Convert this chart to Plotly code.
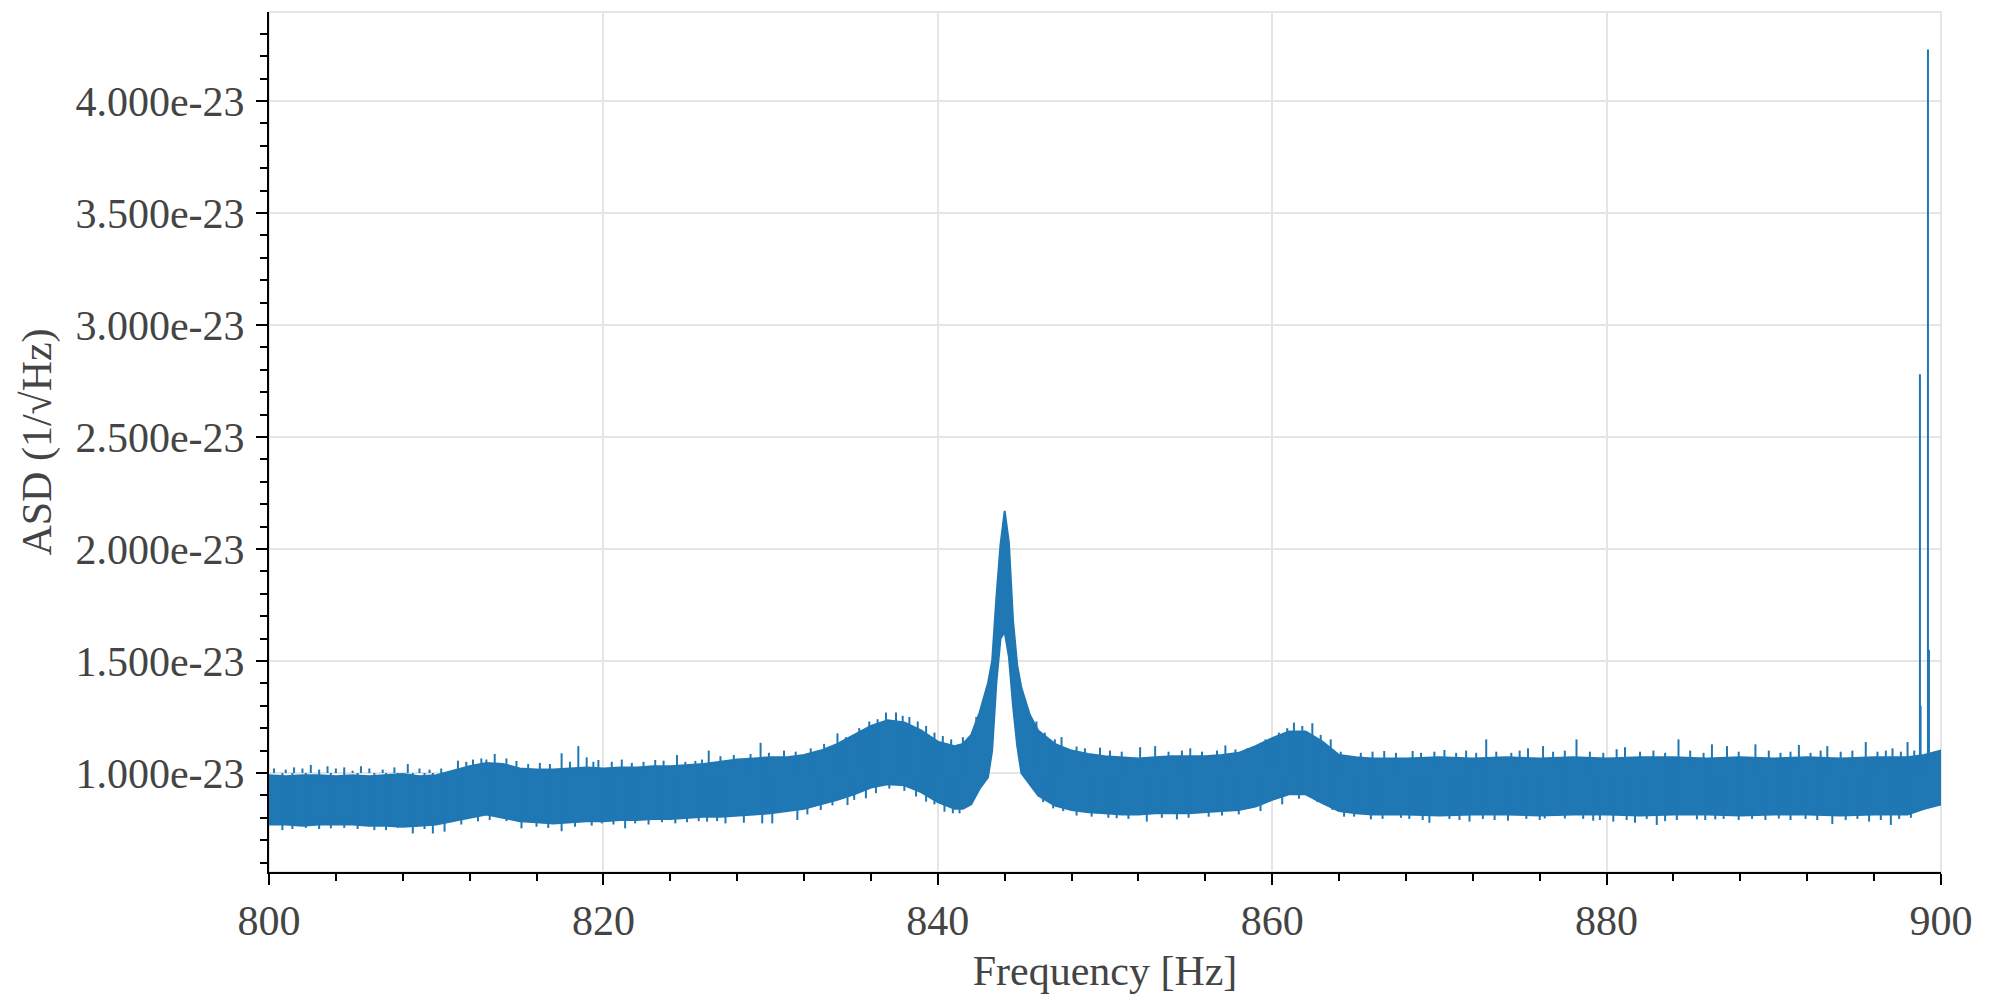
import numpy as np
import plotly.graph_objects as go

SCALE = 1e-23  # ASD values below are in units of 1e-23 1/sqrt(Hz)

# envelope of the noise band
freq = [800, 801, 802, 803, 804, 805, 806, 807, 808, 809,
        810, 811, 812, 813, 814, 815, 816, 817, 818, 819,
        820, 821, 822, 823, 824, 825, 826, 827, 828, 829,
        830, 831, 832, 833, 834, 835, 836, 837, 838, 839,
        840, 841, 841.5, 842, 842.5, 843, 843.25, 843.5, 843.75, 844,
        844.25, 844.5, 844.75, 845, 845.5, 846, 847, 848, 849, 850,
        851, 852, 853, 854, 855, 856, 857, 858, 859, 860,
        861, 862, 863, 864, 865, 866, 867, 868, 870, 872,
        874, 876, 878, 880, 882, 884, 886, 888, 890, 892,
        894, 896, 898, 899, 900]
asd_upper = [0.99, 0.985, 0.99, 0.99, 0.985, 0.99, 0.985, 0.99, 0.995, 0.985,
             0.99, 1.01, 1.03, 1.045, 1.04, 1.02, 1.015, 1.015, 1.02, 1.025,
             1.02, 1.025, 1.025, 1.03, 1.03, 1.035, 1.04, 1.05, 1.06, 1.065,
             1.07, 1.07, 1.08, 1.10, 1.13, 1.17, 1.21, 1.235, 1.225, 1.19,
             1.14, 1.12, 1.13, 1.17, 1.27, 1.40, 1.50, 1.78, 2.02, 2.17,
             2.03, 1.68, 1.48, 1.38, 1.26, 1.19, 1.13, 1.10, 1.085, 1.075,
             1.07, 1.065, 1.07, 1.075, 1.075, 1.075, 1.08, 1.09, 1.12, 1.155,
             1.185, 1.185, 1.14, 1.08, 1.07, 1.065, 1.065, 1.065, 1.07, 1.065,
             1.07, 1.065, 1.07, 1.065, 1.07, 1.07, 1.065, 1.07, 1.065, 1.07,
             1.065, 1.07, 1.07, 1.08, 1.10]
asd_lower = [0.77, 0.77, 0.765, 0.77, 0.77, 0.77, 0.765, 0.765, 0.76, 0.765,
             0.77, 0.785, 0.80, 0.815, 0.80, 0.785, 0.78, 0.775, 0.78, 0.785,
             0.785, 0.79, 0.79, 0.795, 0.795, 0.80, 0.805, 0.805, 0.81, 0.815,
             0.82, 0.83, 0.84, 0.86, 0.88, 0.905, 0.935, 0.95, 0.945, 0.915,
             0.87, 0.84, 0.84, 0.86, 0.93, 0.98, 1.10, 1.40, 1.60, 1.63,
             1.52, 1.30, 1.12, 1.00, 0.95, 0.90, 0.855, 0.835, 0.825, 0.82,
             0.815, 0.815, 0.82, 0.82, 0.82, 0.825, 0.83, 0.835, 0.85, 0.88,
             0.905, 0.905, 0.865, 0.83, 0.82, 0.815, 0.815, 0.815, 0.81, 0.815,
             0.815, 0.81, 0.815, 0.815, 0.81, 0.815, 0.815, 0.81, 0.815, 0.815,
             0.81, 0.815, 0.815, 0.84, 0.86]

# noise hairs sticking out above the band
hair_up_freq = [800.3, 801.0, 801.5, 802.0, 802.5, 803.0, 803.5, 804.0, 804.5, 805.0,
                805.5, 806.0, 806.8, 807.5, 808.3, 809.0, 809.6, 810.3, 811.3, 811.8,
                812.2, 812.7, 813.0, 813.5, 814.2, 814.8, 815.5, 816.2, 816.8, 817.5,
                818.0, 818.5, 819.0, 819.4, 819.7, 820.5, 821.1, 821.7, 822.4, 823.1,
                823.6, 824.4, 824.9, 825.5, 825.9, 826.3, 827.0, 827.8, 828.8, 829.4,
                829.9, 830.8, 831.5, 832.4, 833.2, 834.0, 834.5, 835.3, 835.9, 836.4,
                836.9, 837.5, 837.9, 838.3, 838.8, 839.3, 839.8, 840.3, 840.8, 841.5,
                842.3, 845.9, 846.4, 847.0, 847.4, 848.3, 848.8, 849.7, 850.3, 851.0,
                852.1, 853.0, 853.8, 854.6, 855.1, 855.8, 856.7, 857.2, 857.8, 858.5,
                859.6, 860.4, 860.9, 861.3, 861.8, 862.4, 862.9, 863.5, 864.1, 865.3,
                866.0, 866.7, 867.4, 868.4, 868.9, 869.7, 870.3, 871.0, 871.6, 872.2,
                872.8, 873.4, 874.3, 874.8, 875.3, 876.2, 876.8, 877.5, 878.2, 879.0,
                879.8, 880.6, 881.1, 882.0, 882.8, 883.5, 884.3, 885.0, 885.8, 886.3,
                887.2, 887.9, 888.9, 889.7, 890.4, 891.0, 891.5, 892.2, 892.8, 893.2,
                894.0, 894.7, 895.5, 896.2, 896.7, 897.1, 897.6, 898.0, 898.4]
hair_up_asd = [1.02, 1.015, 1.025, 1.02, 1.036, 1.015, 1.03, 1.02, 1.025, 1.01,
               1.03, 1.02, 1.015, 1.025, 1.04, 1.02, 1.015, 1.02, 1.055, 1.05,
               1.06, 1.065, 1.06, 1.085, 1.065, 1.054, 1.04, 1.045, 1.04, 1.088,
               1.05, 1.12, 1.07, 1.05, 1.058, 1.05, 1.06, 1.045, 1.05, 1.058,
               1.055, 1.08, 1.05, 1.054, 1.06, 1.10, 1.075, 1.08, 1.085, 1.135,
               1.09, 1.10, 1.095, 1.11, 1.13, 1.177, 1.16, 1.20, 1.23, 1.24,
               1.27, 1.27, 1.255, 1.25, 1.23, 1.21, 1.18, 1.165, 1.15, 1.16,
               1.25, 1.23, 1.18, 1.15, 1.16, 1.118, 1.11, 1.113, 1.10, 1.095,
               1.115, 1.12, 1.095, 1.10, 1.11, 1.095, 1.10, 1.123, 1.105, 1.11,
               1.15, 1.18, 1.20, 1.225, 1.21, 1.222, 1.17, 1.15, 1.095, 1.09,
               1.095, 1.098, 1.09, 1.098, 1.09, 1.095, 1.103, 1.09, 1.10, 1.09,
               1.15, 1.095, 1.09, 1.10, 1.11, 1.12, 1.095, 1.10, 1.15, 1.095,
               1.09, 1.106, 1.115, 1.095, 1.10, 1.09, 1.15, 1.10, 1.09, 1.128,
               1.12, 1.095, 1.128, 1.10, 1.09, 1.095, 1.125, 1.09, 1.10, 1.12,
               1.095, 1.10, 1.138, 1.095, 1.10, 1.11, 1.095, 1.138, 1.10]

# noise hairs sticking out below the band
hair_dn_freq = [800.8, 801.4, 802.2, 803.0, 803.7, 804.5, 805.3, 806.3, 807.0, 807.7,
                808.6, 809.3, 809.8, 810.5, 811.5, 812.5, 813.2, 814.2, 815.1, 816.0,
                816.7, 817.5, 818.3, 819.3, 819.9, 820.6, 821.3, 821.9, 822.7, 823.5,
                824.3, 825.0, 825.7, 826.2, 826.8, 827.3, 828.4, 829.5, 830.1, 831.6,
                832.2, 833.0, 833.7, 834.6, 835.0, 835.7, 836.3, 837.1, 838.0, 838.7,
                839.3, 839.8, 840.4, 840.9, 841.3, 846.3, 846.9, 847.5, 848.3, 849.2,
                850.2, 850.7, 851.4, 852.5, 853.4, 854.3, 855.0, 856.2, 857.0, 858.0,
                859.3, 860.6, 861.6, 862.7, 863.6, 864.3, 864.9, 865.9, 866.6, 867.7,
                868.2, 869.0, 869.4, 870.6, 871.2, 871.8, 872.6, 873.3, 874.1, 875.2,
                876.0, 876.3, 877.5, 878.6, 879.2, 879.6, 880.4, 881.2, 881.7, 882.4,
                883.0, 883.5, 884.2, 885.4, 885.9, 886.5, 887.0, 887.9, 888.7, 889.5,
                890.3, 891.0, 891.9, 892.6, 893.5, 894.3, 895.0, 895.7, 896.4, 897.0,
                897.5, 898.2]
hair_dn_asd = [0.745, 0.75, 0.755, 0.75, 0.753, 0.755, 0.75, 0.745, 0.745, 0.755,
               0.73, 0.75, 0.73, 0.738, 0.77, 0.785, 0.79, 0.785, 0.753, 0.76,
               0.755, 0.74, 0.76, 0.765, 0.775, 0.77, 0.753, 0.775, 0.77, 0.78,
               0.775, 0.78, 0.785, 0.783, 0.785, 0.775, 0.778, 0.775, 0.775, 0.79,
               0.815, 0.835, 0.855, 0.857, 0.88, 0.887, 0.91, 0.93, 0.92, 0.895,
               0.872, 0.86, 0.827, 0.82, 0.82, 0.87, 0.842, 0.83, 0.81, 0.805,
               0.80, 0.798, 0.795, 0.783, 0.80, 0.793, 0.80, 0.805, 0.81, 0.815,
               0.83, 0.86, 0.885, 0.87, 0.835, 0.805, 0.805, 0.793, 0.795, 0.80,
               0.795, 0.79, 0.778, 0.795, 0.79, 0.783, 0.795, 0.79, 0.787, 0.795,
               0.79, 0.797, 0.797, 0.795, 0.787, 0.79, 0.783, 0.79, 0.778, 0.795,
               0.768, 0.785, 0.79, 0.793, 0.79, 0.793, 0.795, 0.79, 0.795, 0.79,
               0.797, 0.79, 0.795, 0.79, 0.772, 0.79, 0.795, 0.783, 0.79, 0.768,
               0.795, 0.80]

# narrow lines near 899 Hz
line_freq = [898.74, 898.78, 899.22, 899.28]
line_asd = [2.78, 1.30, 4.23, 1.55]

BASE = 1.0  # hairs and lines are drawn from inside the band
BLUE = "#1f77b4"
FONT = "Liberation Serif"
TEXT = "#444444"

f = np.array(freq)
up = np.array(asd_upper) * SCALE
lo = np.array(asd_lower) * SCALE

fig = go.Figure()
fig.add_trace(go.Scatter(
    x=np.concatenate([f, f[::-1]]), y=np.concatenate([up, lo[::-1]]),
    mode="lines", fill="toself", fillcolor=BLUE,
    line=dict(color=BLUE, width=2), showlegend=False, hoverinfo="skip"))

sx, sy = [], []
for fr, val in zip(hair_up_freq + hair_dn_freq + line_freq,
                   hair_up_asd + hair_dn_asd + line_asd):
    sx += [fr, fr, None]
    sy += [BASE * SCALE, val * SCALE, None]
fig.add_trace(go.Scatter(x=sx, y=sy, mode="lines",
                         line=dict(color=BLUE, width=2),
                         showlegend=False, hoverinfo="skip"))

ytick_vals = [1.0, 1.5, 2.0, 2.5, 3.0, 3.5, 4.0]
ytick_text = ["%.3fe-23" % v for v in ytick_vals]

axis_common = dict(
    showline=True, linecolor="black", linewidth=2,
    ticks="outside", ticklen=11, tickwidth=2, tickcolor="black",
    showgrid=True, gridcolor="#e5e5e5", gridwidth=2, zeroline=False,
    tickfont=dict(family=FONT, size=42, color=TEXT),
)

# the page body has an 8px margin, so the figure is a bit smaller than the window
fig.update_layout(
    width=1992, height=992,
    margin=dict(l=261, r=59, t=4, b=128),
    plot_bgcolor="white", paper_bgcolor="white",
    xaxis=dict(
        range=[800, 900], tick0=800, dtick=20,
        minor=dict(dtick=4, ticks="outside", ticklen=7, tickwidth=2,
                   tickcolor="black", showgrid=False),
        title=dict(text="Frequency [Hz]", standoff=12,
                   font=dict(family=FONT, size=42, color=TEXT)),
        **axis_common),
    yaxis=dict(
        range=[0.558 * SCALE, 4.397 * SCALE],
        tickvals=[v * SCALE for v in ytick_vals], ticktext=ytick_text,
        ticklabelstandoff=3,
        minor=dict(tick0=0, dtick=0.1 * SCALE, ticks="outside", ticklen=7,
                   tickwidth=2, tickcolor="black", showgrid=False),
        title=dict(text="ASD (1/√Hz)", standoff=11,
                   font=dict(family=FONT, size=42, color=TEXT)),
        **axis_common),
    shapes=[dict(type="rect", xref="paper", yref="paper", x0=0, y0=0, x1=1, y1=1,
                 line=dict(color="#e5e5e5", width=2), layer="below")],
)

fig.write_html("out.html")
